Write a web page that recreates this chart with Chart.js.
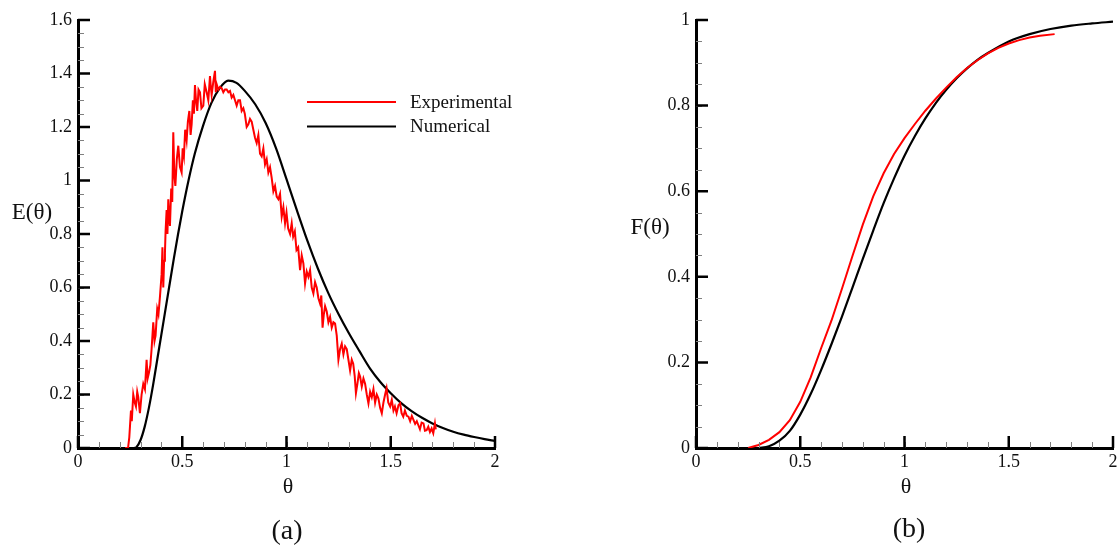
<!DOCTYPE html>
<html>
<head>
<meta charset="utf-8">
<script src="https://cdn.jsdelivr.net/npm/chart.js@4.4.1/dist/chart.umd.min.js"></script>
<style>
  body { margin: 0; background: #fff; }
  #wrap { position: relative; width: 1118px; height: 550px; overflow: hidden; }
  .box { position: absolute; top: 0; height: 550px; }
  .lbl { position: absolute; transform: translate(-50%, -50%); font-family: "Liberation Serif", "Times New Roman", serif; color: #111; white-space: nowrap; }
</style>
</head>
<body>
<div id="wrap">
  <div class="box" style="left:0; width:559px"><canvas id="chartA"></canvas></div>
  <div class="box" style="left:559px; width:590px"><canvas id="chartB"></canvas></div>
  <div class="lbl" style="left:32px; top:212px; font-size:23px">E(θ)</div>
  <div class="lbl" style="left:288px; top:486px; font-size:22px">θ</div>
  <div class="lbl" style="left:287px; top:530px; font-size:28px">(a)</div>
  <div class="lbl" style="left:650px; top:227px; font-size:23px">F(θ)</div>
  <div class="lbl" style="left:906px; top:486px; font-size:22px">θ</div>
  <div class="lbl" style="left:909px; top:528px; font-size:28px">(b)</div>
</div>
<script>
// (a) residence time distribution E(theta)
var expTheta = [0.226, 0.240, 0.246, 0.254, 0.258, 0.265, 0.272, 0.278, 0.284, 0.289, 0.297, 0.305, 0.313, 0.321, 0.329, 0.334, 0.340, 0.347, 0.353, 0.361,
  0.367, 0.372, 0.380, 0.386, 0.393, 0.401, 0.405, 0.409, 0.413, 0.417, 0.420, 0.425, 0.429, 0.433, 0.437, 0.441, 0.447, 0.452, 0.457, 0.462,
  0.467, 0.474, 0.481, 0.489, 0.497, 0.502, 0.508, 0.514, 0.521, 0.527, 0.534, 0.540, 0.545, 0.551, 0.556, 0.561, 0.566, 0.572, 0.578, 0.585,
  0.592, 0.601, 0.608, 0.617, 0.625, 0.633, 0.637, 0.641, 0.649, 0.657, 0.661, 0.665, 0.673, 0.681, 0.689, 0.697, 0.705, 0.713, 0.721, 0.729,
  0.737, 0.745, 0.753, 0.761, 0.769, 0.777, 0.785, 0.793, 0.800, 0.809, 0.817, 0.825, 0.833, 0.841, 0.849, 0.857, 0.865, 0.873, 0.881, 0.889,
  0.897, 0.905, 0.913, 0.921, 0.929, 0.937, 0.945, 0.953, 0.961, 0.969, 0.977, 0.985, 0.993, 1.000, 1.008, 1.017, 1.025, 1.032, 1.040, 1.048,
  1.056, 1.065, 1.073, 1.081, 1.089, 1.097, 1.105, 1.113, 1.121, 1.129, 1.137, 1.145, 1.153, 1.161, 1.167, 1.173, 1.179, 1.185, 1.193, 1.201,
  1.209, 1.217, 1.225, 1.233, 1.241, 1.249, 1.257, 1.265, 1.273, 1.281, 1.289, 1.297, 1.305, 1.313, 1.320, 1.327, 1.333, 1.340, 1.347, 1.353,
  1.361, 1.369, 1.377, 1.385, 1.393, 1.401, 1.409, 1.417, 1.425, 1.433, 1.441, 1.449, 1.457, 1.465, 1.473, 1.480, 1.488, 1.497, 1.505, 1.513,
  1.520, 1.528, 1.537, 1.545, 1.552, 1.560, 1.568, 1.577, 1.585, 1.593, 1.601, 1.609, 1.617, 1.625, 1.632, 1.640, 1.648, 1.657, 1.664, 1.672,
  1.680, 1.688, 1.696, 1.704, 1.712, 1.716];
var expE = [0, 0.0, 0.04, 0.14, 0.10, 0.20, 0.17, 0.155, 0.21, 0.19, 0.13, 0.20, 0.24, 0.22, 0.33, 0.26, 0.28, 0.31, 0.37, 0.47,
  0.40, 0.42, 0.52, 0.50, 0.565, 0.65, 0.75, 0.60, 0.70, 0.73, 0.81, 0.89, 0.80, 0.93, 0.86, 0.83, 0.97, 0.92, 1.18, 1.02,
  0.98, 1.08, 1.13, 1.05, 1.03, 1.12, 1.09, 1.19, 1.15, 1.22, 1.26, 1.17, 1.21, 1.30, 1.25, 1.357, 1.30, 1.26, 1.34, 1.33,
  1.27, 1.28, 1.36, 1.33, 1.30, 1.39, 1.35, 1.32, 1.37, 1.41, 1.33, 1.36, 1.34, 1.35, 1.345, 1.33, 1.34, 1.34, 1.33, 1.335,
  1.31, 1.32, 1.30, 1.28, 1.30, 1.30, 1.26, 1.27, 1.25, 1.20, 1.21, 1.23, 1.22, 1.19, 1.16, 1.14, 1.17, 1.10, 1.09, 1.12,
  1.06, 1.08, 1.03, 1.05, 1.01, 0.96, 0.98, 0.94, 0.93, 0.95, 0.865, 0.90, 0.84, 0.88, 0.82, 0.80, 0.84, 0.79, 0.81, 0.74,
  0.75, 0.665, 0.72, 0.69, 0.615, 0.66, 0.64, 0.665, 0.60, 0.578, 0.62, 0.60, 0.56, 0.54, 0.57, 0.45, 0.50, 0.53, 0.51, 0.47,
  0.49, 0.45, 0.47, 0.465, 0.42, 0.33, 0.37, 0.39, 0.35, 0.38, 0.37, 0.33, 0.29, 0.33, 0.315, 0.27, 0.205, 0.24, 0.28, 0.267,
  0.23, 0.26, 0.24, 0.20, 0.167, 0.21, 0.19, 0.22, 0.17, 0.20, 0.185, 0.15, 0.13, 0.17, 0.20, 0.223, 0.17, 0.155, 0.18, 0.14,
  0.155, 0.13, 0.16, 0.167, 0.13, 0.117, 0.14, 0.12, 0.117, 0.10, 0.12, 0.105, 0.09, 0.10, 0.086, 0.07, 0.095, 0.092, 0.065, 0.067,
  0.08, 0.06, 0.073, 0.055, 0.092, 0.07];

var numTheta = [0.27, 0.28, 0.30, 0.32, 0.34, 0.36, 0.38, 0.40, 0.42, 0.44, 0.46, 0.48, 0.50, 0.53, 0.56, 0.60, 0.64, 0.68, 0.72, 0.76,
  0.80, 0.85, 0.90, 0.95, 1.00, 1.05, 1.10, 1.15, 1.20, 1.25, 1.30, 1.35, 1.40, 1.45, 1.50, 1.55, 1.60, 1.65, 1.70, 1.75,
  1.80, 1.85, 1.90, 1.95, 2.00];
var numE = [0, 0.003, 0.03, 0.08, 0.15, 0.235, 0.33, 0.425, 0.52, 0.615, 0.71, 0.80, 0.885, 1.0, 1.10, 1.205, 1.29, 1.345, 1.373, 1.365,
  1.335, 1.285, 1.215, 1.12, 1.005, 0.888, 0.775, 0.672, 0.58, 0.50, 0.428, 0.362, 0.298, 0.247, 0.205, 0.168, 0.138, 0.113, 0.092, 0.075,
  0.061, 0.05, 0.041, 0.033, 0.026];

// (b) cumulative distribution F(theta)
var expFTheta = [0.25, 0.30, 0.35, 0.40, 0.45, 0.50, 0.55, 0.60, 0.65, 0.70, 0.75, 0.80, 0.85, 0.90, 0.95, 1.00, 1.05, 1.10, 1.15, 1.20,
  1.25, 1.30, 1.35, 1.40, 1.45, 1.50, 1.55, 1.60, 1.65, 1.72];
var expF = [0, 0.007, 0.019, 0.037, 0.065, 0.108, 0.165, 0.233, 0.298, 0.372, 0.448, 0.522, 0.588, 0.642, 0.687, 0.724, 0.757, 0.788, 0.816, 0.842,
  0.866, 0.888, 0.906, 0.922, 0.935, 0.945, 0.953, 0.959, 0.963, 0.967];
var numFTheta = [0.30, 0.35, 0.40, 0.45, 0.50, 0.55, 0.60, 0.65, 0.70, 0.75, 0.80, 0.85, 0.90, 0.95, 1.00, 1.05, 1.10, 1.15, 1.20, 1.25,
  1.30, 1.35, 1.40, 1.50, 1.60, 1.70, 1.80, 1.90, 2.00];
var numF = [0, 0.004, 0.017, 0.04, 0.078, 0.126, 0.182, 0.243, 0.307, 0.374, 0.442, 0.508, 0.572, 0.63, 0.683, 0.729, 0.77, 0.806, 0.837, 0.864,
  0.887, 0.907, 0.923, 0.95, 0.967, 0.979, 0.987, 0.992, 0.996];

var seriesNames = ['Experimental', 'Numerical'];
var xTicksStep = 0.5, xMinorStep = 0.1;

function pairs(xs, ys) {
  return xs.map(function (x, i) { return { x: x, y: ys[i] }; });
}

var serif = '"Liberation Serif", "Times New Roman", serif';

// ticks drawn inside the plot, like the original figure
var innerTicks = {
  id: 'innerTicks',
  afterDraw: function (chart, args, opts) {
    var ctx = chart.ctx, xs = chart.scales.x, ys = chart.scales.y;
    var a = chart.chartArea;
    ctx.save();
    // minor ticks
    ctx.strokeStyle = '#808080';
    ctx.lineWidth = 1;
    ctx.beginPath();
    for (var v = xs.min; v <= xs.max + 1e-9; v += opts.minorX) {
      var px = Math.round(xs.getPixelForValue(v)) + 0.5;
      ctx.moveTo(px, a.bottom); ctx.lineTo(px, a.bottom - 6);
    }
    for (var w = ys.min; w <= ys.max + 1e-9; w += opts.minorY) {
      var py = Math.round(ys.getPixelForValue(w)) + 0.5;
      ctx.moveTo(a.left, py); ctx.lineTo(a.left + 6, py);
    }
    ctx.stroke();
    // major ticks
    ctx.strokeStyle = '#000';
    ctx.lineWidth = 2.5;
    ctx.beginPath();
    xs.ticks.forEach(function (t) {
      var px = xs.getPixelForValue(t.value);
      ctx.moveTo(px, a.bottom); ctx.lineTo(px, a.bottom - 12);
    });
    ys.ticks.forEach(function (t) {
      var py = ys.getPixelForValue(t.value);
      ctx.moveTo(a.left, py); ctx.lineTo(a.left + 12, py);
    });
    ctx.stroke();
    ctx.restore();
  }
};

var lineLegend = {
  id: 'lineLegend',
  afterDraw: function (chart, args, opts) {
    if (!opts.show) return;
    var ctx = chart.ctx;
    ctx.save();
    ctx.font = '19px ' + serif;
    ctx.textBaseline = 'middle';
    chart.data.datasets.forEach(function (ds, i) {
      var y = opts.y + i * 24.5;
      ctx.strokeStyle = ds.borderColor;
      ctx.lineWidth = 2;
      ctx.beginPath();
      ctx.moveTo(opts.x, y); ctx.lineTo(opts.x + 89, y);
      ctx.stroke();
      ctx.fillStyle = '#111';
      ctx.fillText(ds.label, opts.x + 103, y + 1);
    });
    ctx.restore();
  }
};

function tickText(value) {
  return String(Math.round(value * 100) / 100);
}

function makeChart(id, expData, numData, yMax, yStep, yMinor, yWidth, padRight, legend) {
  return new Chart(document.getElementById(id), {
    type: 'line',
    data: {
      datasets: [
        { label: seriesNames[0], data: expData, borderColor: '#ff0000', borderWidth: 2, pointRadius: 0, tension: 0 },
        { label: seriesNames[1], data: numData, borderColor: '#000000', borderWidth: 2.2, pointRadius: 0, cubicInterpolationMode: 'monotone' }
      ]
    },
    options: {
      responsive: true,
      maintainAspectRatio: false,
      animation: false,
      layout: { padding: { top: 20, right: padRight, bottom: 0, left: 0 } },
      plugins: {
        legend: { display: false },
        tooltip: { enabled: false },
        innerTicks: { minorX: xMinorStep, minorY: yMinor },
        lineLegend: legend
      },
      scales: {
        x: {
          type: 'linear', min: 0, max: 2,
          grid: { drawOnChartArea: false, drawTicks: false },
          border: { display: true, color: '#000', width: 3 },
          ticks: { stepSize: xTicksStep, padding: 3, color: '#111', font: { family: serif, size: 18 }, callback: tickText },
          afterFit: function (s) { s.height = 102; }
        },
        y: {
          type: 'linear', min: 0, max: yMax,
          grid: { drawOnChartArea: false, drawTicks: false },
          border: { display: true, color: '#000', width: 3 },
          ticks: { stepSize: yStep, padding: 6, color: '#111', font: { family: serif, size: 18 }, callback: tickText },
          afterFit: function (s) { s.width = yWidth; }
        }
      }
    },
    plugins: [innerTicks, lineLegend]
  });
}

makeChart('chartA', pairs(expTheta, expE), pairs(numTheta, numE), 1.6, 0.2, 0.05, 78, 64, { show: true, x: 307, y: 102 });
makeChart('chartB', pairs(expFTheta, expF), pairs(numFTheta, numF), 1, 0.2, 0.05, 137, 36, { show: false });
</script>
</body>
</html>
